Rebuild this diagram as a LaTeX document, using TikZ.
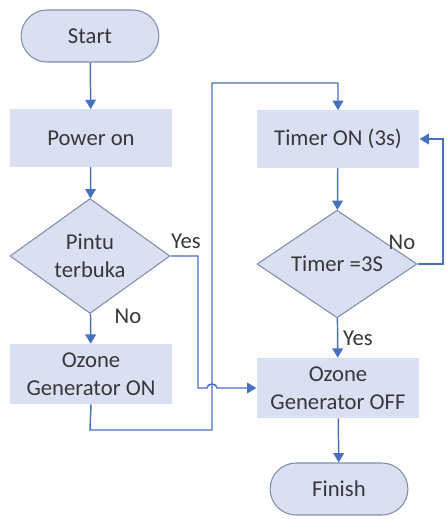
\documentclass[tikz,border=0pt]{standalone}
\usepackage{fontspec}
\setmainfont{Carlito}
\usetikzlibrary{shapes.geometric,shapes.misc,arrows.meta}
\definecolor{boxfill}{RGB}{218,224,241}
\definecolor{boxline}{RGB}{128,143,170}
\definecolor{flowline}{RGB}{72,112,190}
\definecolor{textgray}{RGB}{55,55,60}
\tikzset{
  terminal/.style={rounded rectangle, draw=boxline, fill=boxfill, line width=0.8pt,
    minimum width=110pt, minimum height=39pt, text=textgray},
  process/.style={rectangle, fill=boxfill, minimum width=122pt, minimum height=43pt,
    align=center, text=textgray, font=\fontsize{17}{21}\selectfont},
  decision/.style={diamond, draw=boxline, fill=boxfill, line width=0.8pt, inner sep=0pt,
    minimum width=120pt, minimum height=77pt, align=center, text=textgray,
    font=\fontsize{17}{21}\selectfont},
  flow/.style={draw=flowline, line width=1.1pt, -{Triangle[width=8pt,length=7pt]}},
  label/.style={text=textgray, font=\fontsize{17}{21}\selectfont}
}
\begin{document}
\begin{tikzpicture}[x=0.75pt,y=0.75pt,yscale=-1,xscale=1,font=\fontsize{17}{21}\selectfont]
\useasboundingbox (0,0) rectangle (447,519);

\node[terminal] (start) at (90,36) {Start};
\node[process] (power) at (91,138) {Power on};
\node[decision] (pintu) at (90,256) {Pintu\\terbuka};
\node[process, minimum height=45pt] (ozon) at (91,374) {Ozone\\Generator ON};

\node[process] (timer) at (338,139) {Timer ON (3s)};
\node[decision] (cek) at (337,264) {Timer =3S};
\node[process, minimum height=45pt] (ozoff) at (338,388) {Ozone\\Generator OFF};
\node[terminal] (finish) at (339,489) {Finish};

\coordinate (yes1) at (198,256);
\coordinate (yes2) at (198,388);
\coordinate (hopa) at (207,388);
\coordinate (hopb) at (217,388);
\coordinate (back1) at (90,430);
\coordinate (back2) at (212,430);
\coordinate (back3) at (212,83);
\coordinate (back4) at (338,83);
\coordinate (loop1) at (443,264);
\coordinate (loop2) at (443,139);

\draw[flow] (start) -- (power);
\draw[flow] (power) -- (pintu);
\draw[flow] (pintu) -- (ozon);
\draw[flow] (ozon.south) -- (back1) -- (back2) -- (back3) -- (back4) -- (timer.north);
\draw[flow] (pintu.east) -- (yes1) -- (yes2) -- (hopa) arc[start angle=180, end angle=0, radius=5, y radius=-4] -- (hopb) -- (ozoff.west);
\draw[flow] (timer) -- (cek);
\draw[flow] (cek.east) -- (loop1) -- (loop2) -- (timer.east);
\draw[flow] (cek) -- (ozoff);
\draw[flow] (ozoff) -- (finish);

\node[label] (yespintu) at (186,241) {Yes};
\node[label] (nopintu) at (128,316) {No};
\node[label] (nocek) at (402,242) {No};
\node[label] (yescek) at (358,338) {Yes};

\end{tikzpicture}
\end{document}
